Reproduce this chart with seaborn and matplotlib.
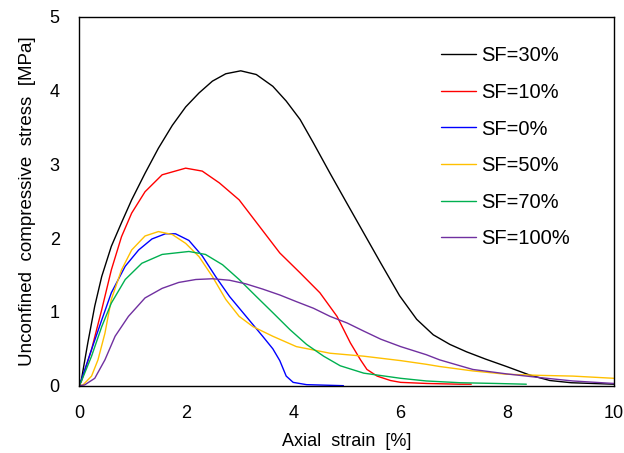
import matplotlib
matplotlib.use("Agg")
import matplotlib.pyplot as plt
from matplotlib.lines import Line2D
import seaborn as sns
import pandas as pd

# ---- data ----
labels = ["SF=30%", "SF=10%", "SF=0%", "SF=50%", "SF=70%", "SF=100%"]
colors = ["#000000", "#FF0000", "#0000FF", "#FFC000", "#00B050", "#7030A0"]

x_sf30 = [0, 0.04, 0.16, 0.29, 0.42, 0.60, 0.79, 0.98, 1.23, 1.48, 1.74, 1.99, 2.24, 2.49, 2.74,
          3.02, 3.31, 3.62, 3.87, 4.13, 4.38, 4.69, 5.00, 5.32, 5.64, 5.99, 6.31, 6.62, 6.93,
          7.24, 7.60, 7.99, 8.42, 8.80, 9.20, 9.60, 10.0]
y_sf30 = [0, 0.08, 0.58, 1.08, 1.48, 1.89, 2.21, 2.52, 2.88, 3.22, 3.53, 3.78, 3.97, 4.13, 4.23,
          4.27, 4.22, 4.06, 3.86, 3.61, 3.29, 2.88, 2.48, 2.07, 1.66, 1.22, 0.90, 0.69, 0.56,
          0.46, 0.36, 0.26, 0.145, 0.07, 0.04, 0.03, 0.02]

x_sf10 = [0, 0.04, 0.23, 0.42, 0.60, 0.79, 0.98, 1.23, 1.55, 1.99, 2.30, 2.62, 2.99, 3.37, 3.75,
          4.13, 4.50, 4.82, 5.07, 5.26, 5.38, 5.57, 5.82, 6.01, 6.50, 7.12, 7.33]
y_sf10 = [0, 0.06, 0.49, 1.03, 1.57, 2.02, 2.34, 2.63, 2.86, 2.95, 2.91, 2.75, 2.52, 2.16, 1.80,
          1.53, 1.26, 0.94, 0.58, 0.35, 0.22, 0.13, 0.07, 0.045, 0.03, 0.02, 0.02]

x_sf0 = [0, 0.04, 0.23, 0.42, 0.60, 0.86, 1.11, 1.36, 1.61, 1.80, 2.05, 2.30, 2.55, 2.81, 3.12,
         3.43, 3.62, 3.75, 3.87, 4.00, 4.25, 4.94]
y_sf0 = [0, 0.08, 0.49, 0.89, 1.26, 1.62, 1.84, 1.99, 2.06, 2.06, 1.97, 1.76, 1.48, 1.21, 0.94,
         0.67, 0.50, 0.34, 0.13, 0.045, 0.014, 0.0]

x_sf50 = [0, 0.07, 0.23, 0.35, 0.48, 0.60, 0.79, 0.98, 1.23, 1.48, 1.74, 1.99, 2.24, 2.49, 2.74,
          2.99, 3.25, 3.62, 4.06, 4.69, 5.32, 6.01, 6.49, 6.74, 7.36, 7.99, 8.61, 9.23, 10.0]
y_sf50 = [0, 0.01, 0.13, 0.35, 0.71, 1.17, 1.57, 1.84, 2.03, 2.09, 2.05, 1.93, 1.75, 1.48, 1.17,
          0.94, 0.80, 0.67, 0.53, 0.44, 0.40, 0.34, 0.29, 0.26, 0.20, 0.155, 0.14, 0.13, 0.10]

x_sf70 = [0, 0.04, 0.23, 0.42, 0.60, 0.86, 1.17, 1.55, 2.05, 2.36, 2.68, 2.99, 3.31, 3.62, 3.94,
          4.25, 4.57, 4.88, 5.32, 6.01, 6.49, 7.12, 7.80, 8.36]
y_sf70 = [0, 0.06, 0.40, 0.80, 1.12, 1.44, 1.66, 1.78, 1.82, 1.78, 1.64, 1.44, 1.21, 0.99, 0.76,
          0.56, 0.40, 0.27, 0.17, 0.10, 0.064, 0.04, 0.03, 0.02]

x_sf100 = [0, 0.10, 0.29, 0.48, 0.67, 0.92, 1.23, 1.55, 1.86, 2.18, 2.49, 2.81, 3.12, 3.43, 3.75,
           4.06, 4.38, 4.69, 5.01, 5.32, 5.64, 6.01, 6.49, 6.74, 7.12, 7.36, 7.99, 8.61, 9.23, 10.0]
y_sf100 = [0, 0.01, 0.10, 0.35, 0.67, 0.94, 1.19, 1.32, 1.40, 1.44, 1.45, 1.43, 1.38, 1.31, 1.23,
           1.14, 1.05, 0.94, 0.85, 0.74, 0.63, 0.53, 0.42, 0.35, 0.27, 0.22, 0.16, 0.11, 0.064, 0.03]

x_ticks = [0, 2, 4, 6, 8, 10]
y_ticks = [0, 1, 2, 3, 4, 5]

series = [(x_sf30, y_sf30), (x_sf10, y_sf10), (x_sf0, y_sf0),
          (x_sf50, y_sf50), (x_sf70, y_sf70), (x_sf100, y_sf100)]

frames = []
for lab, (xs, ys) in zip(labels, series):
    frames.append(pd.DataFrame({"strain": xs, "stress": ys, "series": lab}))
df = pd.concat(frames, ignore_index=True)

# ---- style ----
sns.set_style("white")
plt.rcParams["font.family"] = ["Liberation Sans", "DejaVu Sans"]
plt.rcParams["text.color"] = "black"
plt.rcParams["axes.labelcolor"] = "black"

fig = plt.figure(figsize=(6.24, 4.53), dpi=100)
ax = fig.add_axes([0.127, 0.1486, 0.857, 0.8139])

sns.lineplot(data=df, x="strain", y="stress", hue="series", hue_order=labels,
             palette=dict(zip(labels, colors)), sort=False, estimator=None,
             units="series", linewidth=1.0, ax=ax, legend=False)

ax.set_xlim(0, 10)
ax.set_ylim(0, 5)
ax.set_xticks(x_ticks)
ax.set_yticks(y_ticks)
ax.set_xticklabels([str(t) for t in x_ticks])
ax.set_yticklabels([str(t) for t in y_ticks])
ax.tick_params(axis="both", direction="in", length=4, width=1, labelsize=13,
               pad=14, colors="black", labelcolor="black", top=False, right=False)
for s in ax.spines.values():
    s.set_visible(True)
    s.set_color("black")
    s.set_linewidth(1.0)

ax.set_xlabel("Axial  strain  [%]", fontsize=13, labelpad=8, color="black")
ax.set_ylabel("Unconfined  compressive  stress  [MPa]", fontsize=13.5, labelpad=10, color="black")

handles = [Line2D([0], [0], color=c, lw=1.0) for c in colors]
leg = ax.legend(handles, labels, loc="upper left", bbox_to_anchor=(0.676, 0.92),
                frameon=False, fontsize=14.5, handlelength=1.75, handletextpad=0.25,
                labelspacing=0.87, borderpad=0, borderaxespad=0)
for t in leg.get_texts():
    t.set_color("black")

fig.savefig("out.png", dpi=100)
